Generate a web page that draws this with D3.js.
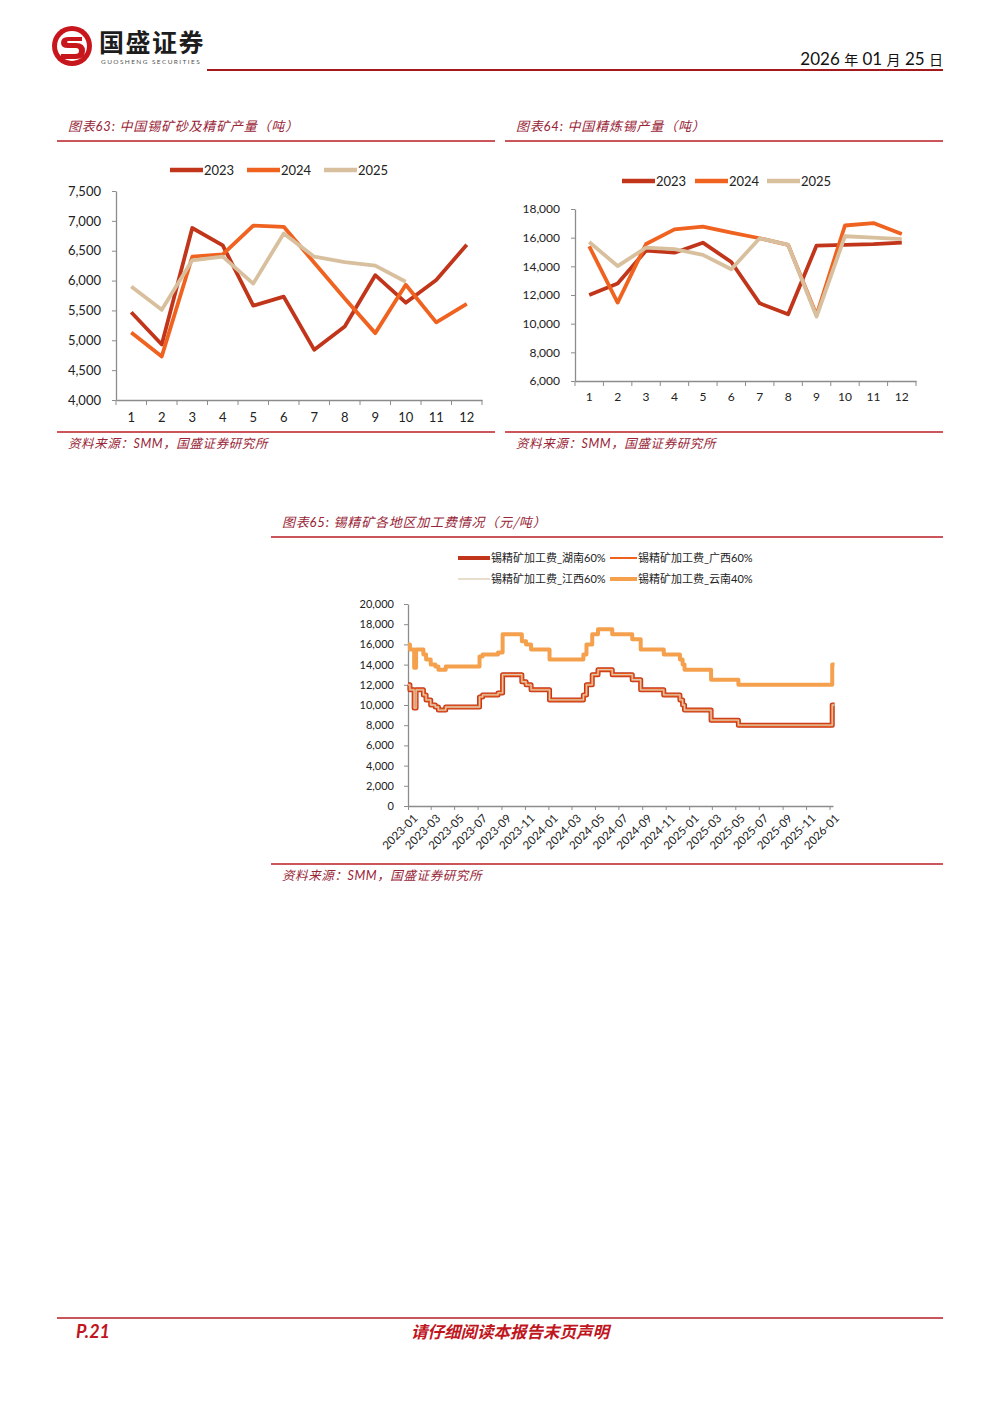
<!DOCTYPE html>
<html>
<head>
<meta charset="utf-8">
<script src="https://cdn.jsdelivr.net/npm/d3@7"></script>
<style>
body { margin: 0; background: #fff; }
svg text { font-family: Lato, "Noto Sans CJK SC", sans-serif; }
.cjk { font-family: "Noto Sans CJK SC", sans-serif; }
</style>
</head>
<body>
<div id="page"></div>
<script>
// ---- data ----
var monthLabels = ["1","2","3","4","5","6","7","8","9","10","11","12"];
var yearNames = ["2023","2024","2025"];

// 图表63 中国锡矿砂及精矿产量（吨）
var ore2023 = [5470,4930,6880,6590,5580,5730,4840,5230,6090,5630,6010,6600];
var ore2024 = [5130,4730,6400,6440,6920,6900,6300,5700,5120,5930,5300,5610];
var ore2025 = [5900,5510,6340,6400,5950,6790,6400,6310,6250,5980];
var oreTicks = [4000,4500,5000,5500,6000,6500,7000,7500];

// 图表64 中国精炼锡产量（吨）
var tin2023 = [12000,12800,15100,14950,15650,14300,11420,10650,15450,15500,15550,15650];
var tin2024 = [15400,11470,15560,16580,16770,16350,15960,15500,10600,16850,17020,16250];
var tin2025 = [15700,14020,15300,15200,14800,13800,15960,15500,10500,16100,16000,15900];
var tinTicks = [6000,8000,10000,12000,14000,16000,18000];

// 图表65 锡精矿各地区加工费（元/吨），数值变动日期
var feeDates = ["2023-01-01","2023-01-06","2023-01-17","2023-01-22","2023-02-10","2023-02-17",
  "2023-03-01","2023-03-13","2023-03-21","2023-04-09","2023-07-06","2023-07-14","2023-08-23",
  "2023-09-04","2023-10-24","2023-11-04","2023-11-17","2024-01-04","2024-04-01","2024-04-09",
  "2024-04-24","2024-05-09","2024-06-15","2024-08-06","2024-08-28","2024-10-27","2024-12-08",
  "2024-12-15","2024-12-20","2025-02-27","2025-05-09","2026-01-08","2026-01-14"];
var hunan60   = [12000,11500,9700,11500,11000,10500,10000,9800,9500,9800,10800,11000,11200,13000,12300,12000,11500,10500,11000,12000,13000,13500,13000,12500,11500,11000,10500,10000,9500,8500,8000,10000,10000];
var guangxi60 = [12000,11500,9700,11500,11000,10500,10000,9800,9500,9800,10800,11000,11200,13000,12300,12000,11500,10500,11000,12000,13000,13500,13000,12500,11500,11000,10500,10000,9500,8500,8000,10000,10000];
var jiangxi60 = [12000,11500,9700,11500,11000,10500,10000,9800,9500,9800,10800,11000,11200,13000,12300,12000,11500,10500,11000,12000,13000,13500,13000,12500,11500,11000,10500,10000,9500,8500,8000,10000,10000];
var yunnan40  = [16000,15500,13700,15500,15000,14500,14000,13800,13500,13800,14800,15000,15200,17000,16300,16000,15500,14500,15000,16000,17000,17500,17000,16500,15500,15000,14500,14000,13500,12500,12000,14000,14000];
var feeNames = ["锡精矿加工费_湖南60%","锡精矿加工费_广西60%","锡精矿加工费_江西60%","锡精矿加工费_云南40%"];
var feeTicks = [0,2000,4000,6000,8000,10000,12000,14000,16000,18000,20000];

var yearColors = ["#C1361B", "#F0621F", "#D8C09E"];
var red = "#B81C24", titleRed = "#982436", axisGray = "#8c8c8c";

var svg = d3.select("#page").append("svg")
  .attr("width", 1000)
  .attr("height", 1414);

// ---- header ----
var logo = svg.append("g").attr("transform", "translate(72,46)");
logo.append("circle").attr("r", 20).attr("fill", "#C8161D");
logo.append("circle").attr("r", 15).attr("fill", "#fff");
logo.append("path")
  .attr("d", "M10,-9 L-4,-9 Q-11,-9 -11,-3 Q-11,2 -4,2 L4,2 Q7,2 7,5 Q7,8 3,8 L-11,8 L-11,13 L4,13 Q13,13 13,5 Q13,-3 4,-3 L-3,-3 Q-5,-3 -5,-4 Q-5,-5 -3,-5 L10,-5 Z")
  .attr("fill", "#C8161D");
svg.append("text").attr("class", "cjk")
  .attr("x", 99).attr("y", 52)
  .style("font-size", "25px").style("font-weight", "bold")
  .style("letter-spacing", "1.5px").attr("fill", "#1d1d1d")
  .text("国盛证券");
svg.append("text")
  .attr("x", 101).attr("y", 64)
  .style("font-size", "6.5px").style("letter-spacing", "1.4px").attr("fill", "#555")
  .text("GUOSHENG SECURITIES");
svg.append("line").attr("x1", 207).attr("x2", 943).attr("y1", 70).attr("y2", 70)
  .attr("stroke", "#A3191E").attr("stroke-width", 2);
var dateText = svg.append("text").attr("x", 943).attr("y", 65)
  .attr("text-anchor", "end").attr("fill", "#111").style("font-size", "17px");
dateText.append("tspan").text("2026 ");
dateText.append("tspan").attr("class", "cjk").style("font-size", "14px").text("年");
dateText.append("tspan").text(" 01 ");
dateText.append("tspan").attr("class", "cjk").style("font-size", "14px").text("月");
dateText.append("tspan").text(" 25 ");
dateText.append("tspan").attr("class", "cjk").style("font-size", "14px").text("日");

// ---- footer ----
svg.append("line").attr("x1", 57).attr("x2", 943).attr("y1", 1318).attr("y2", 1318)
  .attr("stroke", red).attr("stroke-width", 1.5);
svg.append("text").attr("x", 76).attr("y", 1338)
  .style("font-size", "18px").style("font-weight", "bold").style("font-style", "italic")
  .attr("fill", "#C0161E").text("P.21");
svg.append("text").attr("class", "cjk").attr("x", 510).attr("y", 1338)
  .attr("text-anchor", "middle")
  .style("font-size", "16.5px").style("font-weight", "bold").style("font-style", "italic")
  .attr("fill", "#C0161E").text("请仔细阅读本报告末页声明");

// section frame: title, rules, source
function section(x1, x2, top, bottom, num, title) {
  var t = svg.append("text").attr("x", x1 + 11).attr("y", top - 10)
    .attr("fill", titleRed).style("font-style", "italic").style("font-size", "13px")
    .style("letter-spacing", "0.8px");
  t.append("tspan").attr("class", "cjk").text("图表");
  t.append("tspan").text(num + ":  ");
  t.append("tspan").attr("class", "cjk").text(title);
  svg.append("line").attr("x1", x1).attr("x2", x2).attr("y1", top).attr("y2", top)
    .attr("stroke", red).attr("stroke-width", 1.3);
  svg.append("line").attr("x1", x1).attr("x2", x2).attr("y1", bottom).attr("y2", bottom)
    .attr("stroke", red).attr("stroke-width", 1.3);
  var s = svg.append("text").attr("x", x1 + 11).attr("y", bottom + 16)
    .attr("fill", titleRed).style("font-style", "italic").style("font-size", "12.5px")
    .style("letter-spacing", "0.6px");
  s.append("tspan").attr("class", "cjk").text("资料来源：");
  s.append("tspan").text("SMM");
  s.append("tspan").attr("class", "cjk").text("，国盛证券研究所");
}

section(57, 495, 141, 432, "63", "中国锡矿砂及精矿产量（吨）");
section(505, 943, 141, 432, "64", "中国精炼锡产量（吨）");
section(271, 943, 537, 864, "65", "锡精矿各地区加工费情况（元/吨）");

function styleAxis(g) {
  g.select(".domain").attr("stroke", axisGray).attr("stroke-width", 1.3);
  g.selectAll(".tick line").attr("stroke", axisGray);
  g.selectAll(".tick text").attr("fill", "#222");
}

// monthly line chart with category x axis
function monthChart(o) {
  var x = d3.scaleBand().domain(monthLabels).range([o.left, o.right]);
  var y = d3.scaleLinear().domain(o.domain).range([o.bottom, o.top]);

  var yAxis = svg.append("g").attr("transform", "translate(" + o.left + ",0)")
    .call(d3.axisLeft(y).tickValues(o.ticks).tickFormat(d3.format(","))
      .tickSizeOuter(0).tickSizeInner(4).tickPadding(11));
  yAxis.style("font-size", o.font + "px");
  styleAxis(yAxis);

  var xAxis = svg.append("g").attr("transform", "translate(0," + o.bottom + ")")
    .call(d3.axisBottom(x).tickSize(0).tickPadding(o.pad));
  xAxis.style("font-size", o.font + "px");
  styleAxis(xAxis);
  // category boundary ticks
  var edges = d3.range(monthLabels.length + 1);
  svg.append("g").selectAll("line").data(edges).join("line")
    .attr("x1", function(i) { return o.left + i * x.step(); })
    .attr("x2", function(i) { return o.left + i * x.step(); })
    .attr("y1", o.bottom).attr("y2", o.bottom + 5)
    .attr("stroke", axisGray);

  var line = d3.line()
    .x(function(d, i) { return x(monthLabels[i]) + x.bandwidth() / 2; })
    .y(function(d) { return y(d); });

  o.series.forEach(function(s, k) {
    svg.append("path").datum(s)
      .attr("fill", "none").attr("stroke", yearColors[k])
      .attr("stroke-width", 3.8).attr("stroke-linejoin", "round")
      .attr("d", line);
  });

  // legend
  o.legend.forEach(function(lx, k) {
    svg.append("line").attr("x1", lx).attr("x2", lx + 33)
      .attr("y1", o.legendY).attr("y2", o.legendY)
      .attr("stroke", yearColors[k]).attr("stroke-width", 4.5);
    svg.append("text").attr("x", lx + 34).attr("y", o.legendY + 4.5)
      .style("font-size", "13px").attr("fill", "#222").text(yearNames[k]);
  });
}

monthChart({
  left: 116, right: 482, top: 191, bottom: 400,
  domain: [4000, 7500], ticks: oreTicks, font: 13, pad: 13,
  series: [ore2023, ore2024, ore2025],
  legend: [170, 247, 324], legendY: 170
});

monthChart({
  left: 575, right: 916, top: 209, bottom: 381,
  domain: [6000, 18000], ticks: tinTicks, font: 12, pad: 11,
  series: [tin2023, tin2024, tin2025],
  legend: [622, 695, 767], legendY: 181
});

// ---- 图表65 step chart ----
(function() {
  var parse = d3.timeParse("%Y-%m-%d");
  var dates = feeDates.map(parse);
  var left = 408, right = 833, top = 604, bottom = 806;
  var x = d3.scaleTime()
    .domain([parse("2023-01-01"), parse("2026-01-10")])
    .range([left, right]);
  var y = d3.scaleLinear().domain([0, 20000]).range([bottom, top]);

  var yAxis = svg.append("g").attr("transform", "translate(" + left + ",0)")
    .call(d3.axisLeft(y).tickValues(feeTicks).tickFormat(d3.format(","))
      .tickSizeOuter(0).tickSizeInner(4).tickPadding(10));
  yAxis.style("font-size", "11px");
  styleAxis(yAxis);

  var xAxis = svg.append("g").attr("transform", "translate(0," + bottom + ")")
    .call(d3.axisBottom(x).ticks(d3.timeMonth.every(2))
      .tickFormat(d3.timeFormat("%Y-%m")).tickSizeOuter(0).tickSizeInner(4));
  xAxis.style("font-size", "11.5px");
  styleAxis(xAxis);
  xAxis.selectAll(".tick text")
    .attr("text-anchor", "end")
    .attr("dy", null)
    .attr("transform", "translate(5,8) rotate(-45)");

  var line = d3.line()
    .x(function(d, i) { return x(dates[i]); })
    .y(function(d) { return y(d); })
    .curve(d3.curveStepAfter);

  var styles = [
    { data: yunnan40, color: "#F4A04C", w: 4 },
    { data: hunan60, color: "#C1361B", w: 5 },
    { data: guangxi60, color: "#F0621F", w: 3 },
    { data: jiangxi60, color: "#DCCBB2", w: 1.3 }
  ];
  styles.forEach(function(s) {
    svg.append("path").datum(s.data)
      .attr("fill", "none").attr("stroke", s.color)
      .attr("stroke-width", s.w).attr("stroke-linejoin", "round")
      .attr("d", line);
  });

  // legend
  var legendItems = [
    { name: feeNames[0], color: "#C1361B", w: 4, x: 458, y: 558, len: 32 },
    { name: feeNames[1], color: "#F0621F", w: 2, x: 610, y: 558, len: 27 },
    { name: feeNames[2], color: "#DCCBB2", w: 1.3, x: 458, y: 579, len: 32 },
    { name: feeNames[3], color: "#F4A04C", w: 4, x: 610, y: 579, len: 27 }
  ];
  legendItems.forEach(function(d) {
    svg.append("line").attr("x1", d.x).attr("x2", d.x + d.len)
      .attr("y1", d.y).attr("y2", d.y)
      .attr("stroke", d.color).attr("stroke-width", d.w);
    svg.append("text").attr("x", d.x + d.len + 1).attr("y", d.y + 4)
      .style("font-size", "11px").attr("fill", "#222").text(d.name);
  });
})();
</script>
</body>
</html>
